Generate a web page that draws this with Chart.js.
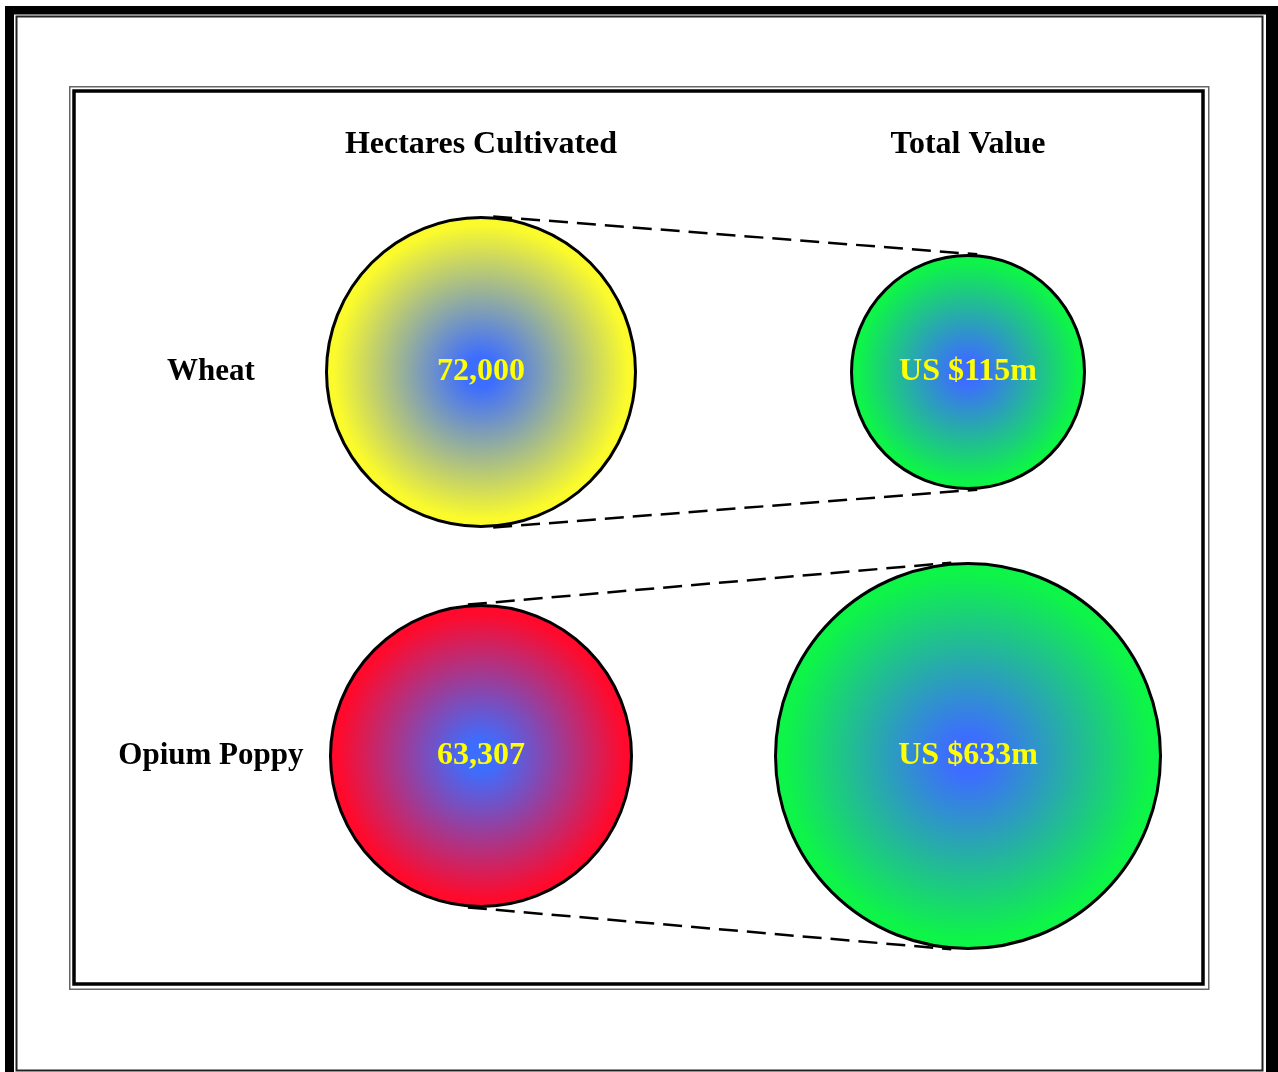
<!DOCTYPE html>
<html>
<head>
<meta charset="utf-8">
<script src="https://cdn.jsdelivr.net/npm/chart.js@4.4.1/dist/chart.umd.min.js"></script>
<style>
  html, body { margin: 0; padding: 0; background: #fff; overflow: hidden; }
  #c { display: block; }
</style>
</head>
<body>
<canvas id="c" width="1278" height="1072"></canvas>
<script>
// ---- data ----
const columns = ['Hectares Cultivated', 'Total Value'];
const crops = ['Wheat', 'Opium Poppy'];
const hectares = [72000, 63307];
const valueUSDm = [115, 633];

const hectareLabels = hectares.map(v => v.toLocaleString('en-US'));
const valueLabels = valueUSDm.map(v => 'US $' + v + 'm');

// ---- styling ----
const bubbleRadius = [[154.5, 150.5], [116.5, 192.5]]; // [column][crop], px
const rimColors = [['#fafa2c', '#ff0a2c'], ['#0ef448', '#0ef448']];
const coreColor = '#3d6dff';
const serif = '"Liberation Serif", "Times New Roman", serif';

function radiusOf(ctx) {
  const col = bubbleRadius[ctx.datasetIndex];
  return (col && col[ctx.dataIndex]) || 100;
}

function bubbleFill(ctx) {
  const chart = ctx.chart;
  const sx = chart.scales && chart.scales.x, sy = chart.scales && chart.scales.y;
  if (ctx.type !== 'data' || !ctx.parsed || !sx || !sy) return coreColor;
  const px = sx.getPixelForValue(ctx.parsed.x);
  const py = sy.getPixelForValue(ctx.parsed.y);
  if (!isFinite(px) || !isFinite(py)) return coreColor;
  const r = radiusOf(ctx);
  const rim = rimColors[ctx.datasetIndex][ctx.dataIndex];
  const g = chart.ctx.createRadialGradient(px, py, 0, px, py, r);
  g.addColorStop(0, coreColor);
  g.addColorStop(0.1, coreColor);
  g.addColorStop(0.95, rim);
  g.addColorStop(1, rim);
  return g;
}

const datasets = [
  {
    label: columns[0],
    data: crops.map((c, i) => ({ x: columns[0], y: c, v: hectares[i] })),
    valueText: hectareLabels
  },
  {
    label: columns[1],
    data: crops.map((c, i) => ({ x: columns[1], y: c, v: valueUSDm[i] })),
    valueText: valueLabels
  }
].map(ds => Object.assign(ds, {
  backgroundColor: bubbleFill,
  borderColor: '#000',
  borderWidth: 3,
  radius: radiusOf,
  hoverRadius: 0,
  clip: false
}));

// double frames around the page and the plot
const framePlugin = {
  id: 'frames',
  beforeDraw(chart) {
    const c = chart.ctx;
    c.save();
    c.fillStyle = '#fff';
    c.fillRect(0, 0, chart.width, chart.height);
    // outer heavy band
    c.fillStyle = '#000';
    c.fillRect(5, 6, 9, 1072);
    c.fillRect(5, 6, 1273, 8.5);
    c.fillRect(1266, 6, 12, 1072);
    // outer thin rule
    c.strokeStyle = '#222';
    c.lineWidth = 2;
    c.strokeRect(16.5, 16.5, 1246, 1054);
    // inner frame: thin grey rule + heavy black rule
    c.strokeStyle = '#666';
    c.lineWidth = 1.5;
    c.strokeRect(69.75, 86.75, 1139, 902.5);
    c.strokeStyle = '#000';
    c.lineWidth = 3.5;
    c.strokeRect(74, 91, 1129, 893);
    c.restore();
  }
};

// dashed outer tangents joining each crop's two bubbles
const connectorPlugin = {
  id: 'connectors',
  beforeDatasetsDraw(chart) {
    const a = chart.getDatasetMeta(0).data;
    const b = chart.getDatasetMeta(1).data;
    const c = chart.ctx;
    c.save();
    c.strokeStyle = '#000';
    c.lineWidth = 2.5;
    c.setLineDash([19, 9]);
    crops.forEach((_, i) => {
      if (!a[i] || !b[i]) return;
      const r1 = bubbleRadius[0][i] + 1.5, r2 = bubbleRadius[1][i] + 1.5;
      const dx = b[i].x - a[i].x, dy = b[i].y - a[i].y;
      const L = Math.hypot(dx, dy);
      const ux = dx / L, uy = dy / L;
      const cs = (r1 - r2) / L, sn = Math.sqrt(1 - cs * cs);
      [-1, 1].forEach(s => {
        const nx = ux * cs - s * uy * sn;
        const ny = uy * cs + s * ux * sn;
        c.beginPath();
        c.moveTo(a[i].x + r1 * nx, a[i].y + r1 * ny);
        c.lineTo(b[i].x + r2 * nx, b[i].y + r2 * ny);
        c.stroke();
      });
    });
    c.restore();
  }
};

// value text in the middle of every bubble
const valueTextPlugin = {
  id: 'valueText',
  afterDatasetsDraw(chart) {
    const c = chart.ctx;
    c.save();
    c.fillStyle = '#ffff00';
    c.font = 'bold 32px ' + serif;
    c.textAlign = 'center';
    c.textBaseline = 'middle';
    chart.data.datasets.forEach((ds, di) => {
      chart.getDatasetMeta(di).data.forEach((el, j) => {
        c.fillText(ds.valueText[j], el.x, el.y);
      });
    });
    c.restore();
  }
};

new Chart(document.getElementById('c'), {
  type: 'bubble',
  data: { datasets },
  options: {
    responsive: false,
    animation: false,
    events: [],
    layout: { autoPadding: false, padding: { left: 13.5, right: 66.5, top: 120, bottom: 124 } },
    plugins: { legend: { display: false }, tooltip: { enabled: false } },
    scales: {
      x: {
        type: 'category',
        labels: columns,
        position: 'top',
        offset: true,
        grid: { display: false, drawTicks: false },
        border: { display: false },
        ticks: { color: '#000', padding: 16, font: { family: serif, size: 32, weight: 'bold' } },
        afterFit: s => { s.height = 60; }
      },
      y: {
        type: 'category',
        labels: crops,
        position: 'left',
        offset: true,
        grid: { display: false, drawTicks: false },
        border: { display: false },
        ticks: { color: '#000', padding: -66, crossAlign: 'center', font: { family: serif, size: 31, weight: 'bold' } },
        afterFit: s => {
          s.width = 224;
          // row names sit partly over the plot area, so they are not clipped to the axis box
          s._computeLabelArea = () => null;
        }
      }
    }
  },
  plugins: [framePlugin, connectorPlugin, valueTextPlugin]
});
</script>
</body>
</html>
